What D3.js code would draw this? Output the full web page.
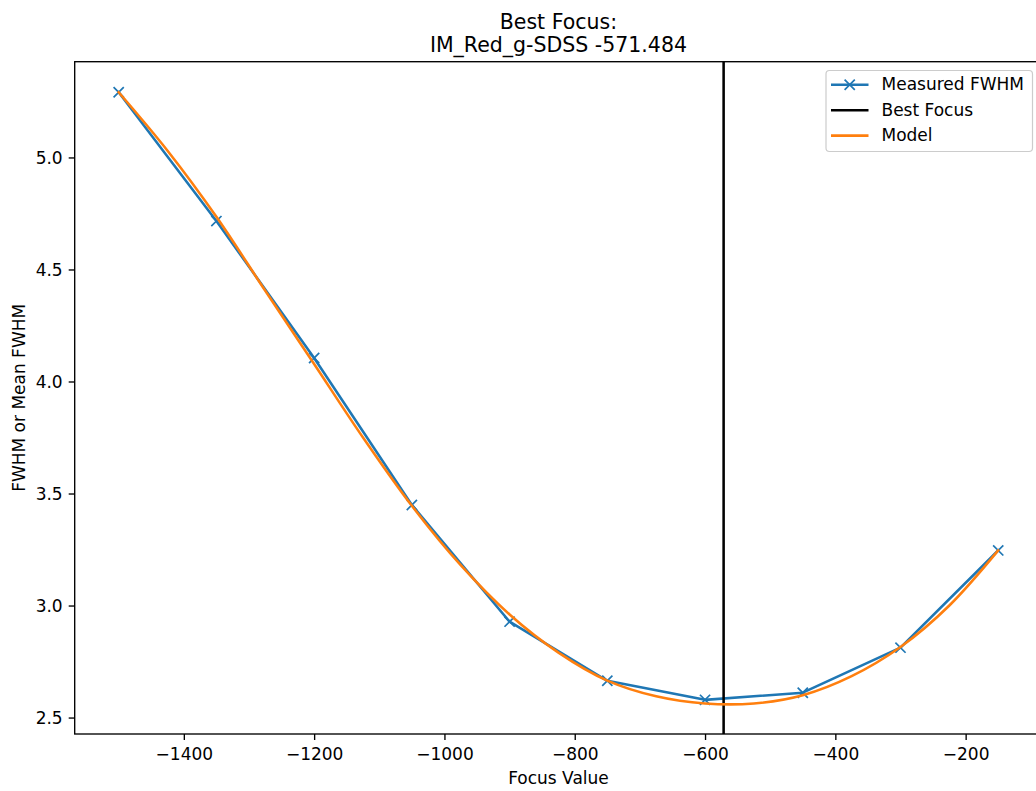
<!DOCTYPE html>
<html>
<head>
<meta charset="utf-8">
<script src="https://cdn.jsdelivr.net/npm/d3@7"></script>
<style>
  html, body { margin: 0; padding: 0; background: #ffffff; overflow: hidden; }
  svg { display: block; font-family: "DejaVu Sans", sans-serif; }
</style>
</head>
<body>
<svg id="chart" width="1036" height="791"></svg>
<script>
// ---- data ----
const titleLines = ["Best Focus:", "IM_Red_g-SDSS -571.484"];
const xLabel = "Focus Value";
const yLabel = "FWHM or Mean FWHM";
const bestFocus = -571.484;

const measuredFocus = [-1500, -1350, -1200, -1050, -900, -750, -600, -450, -300, -150];
const measuredFWHM  = [5.291, 4.716, 4.105, 3.449, 2.928, 2.664, 2.579, 2.611, 2.812, 3.246];

const modelFocus = [-1500, -1425, -1350, -1275, -1200, -1125, -1050, -975, -900, -825,
                    -750, -675, -600, -525, -450, -375, -300, -225, -150];
const modelFWHM  = [5.291, 5.030, 4.735, 4.405, 4.078, 3.750, 3.445, 3.180, 2.960, 2.790,
                    2.665, 2.595, 2.563, 2.563, 2.600, 2.685, 2.815, 3.000, 3.246];

const xTicks = [-1400, -1200, -1000, -800, -600, -400, -200];
const yTicks = [2.5, 3.0, 3.5, 4.0, 4.5, 5.0];

const legendLabels = ["Measured FWHM", "Best Focus", "Model"];
const colors = { measured: "#1f77b4", best: "#000000", model: "#ff7f0e" };

// ---- layout ----
const svg = d3.select("#chart");
const mLeft = 74.7, mTop = 61.7, pw = 967.5, ph = 672.3;
const fs = 17;

const allX = measuredFocus.concat(modelFocus);
const allY = measuredFWHM.concat(modelFWHM);
const xMin = d3.min(allX), xMax = d3.max(allX);
const yMin = d3.min(allY), yMax = d3.max(allY);
const xPad = 0.05 * (xMax - xMin), yPad = 0.05 * (yMax - yMin);

const x = d3.scaleLinear().domain([xMin - xPad, xMax + xPad]).range([mLeft, mLeft + pw]);
const y = d3.scaleLinear().domain([yMin - yPad, yMax + yPad]).range([mTop + ph, mTop]);

svg.append("defs").append("clipPath").attr("id", "clip")
  .append("rect").attr("x", mLeft).attr("y", mTop).attr("width", pw).attr("height", ph);

const plot = svg.append("g").attr("clip-path", "url(#clip)");

// measured line
const line = d3.line().x(d => x(d[0])).y(d => y(d[1]));
const measured = measuredFocus.map((f, i) => [f, measuredFWHM[i]]);
plot.append("path").datum(measured)
  .attr("d", line).attr("fill", "none")
  .attr("stroke", colors.measured).attr("stroke-width", 2.55)
  .attr("stroke-linejoin", "round").attr("stroke-linecap", "square");

// markers
const ms = 5.1;
plot.selectAll("path.mk").data(measured).enter().append("path")
  .attr("class", "mk")
  .attr("d", d => {
    const cx = x(d[0]), cy = y(d[1]);
    return `M${cx - ms},${cy - ms}L${cx + ms},${cy + ms}M${cx - ms},${cy + ms}L${cx + ms},${cy - ms}`;
  })
  .attr("stroke", colors.measured).attr("stroke-width", 1.7).attr("fill", "none");

// best focus line
plot.append("line")
  .attr("x1", x(bestFocus)).attr("x2", x(bestFocus))
  .attr("y1", mTop).attr("y2", mTop + ph)
  .attr("stroke", colors.best).attr("stroke-width", 2.55);

// model
const model = modelFocus.map((f, i) => [f, modelFWHM[i]]);
plot.append("path").datum(model)
  .attr("d", d3.line().x(d => x(d[0])).y(d => y(d[1])).curve(d3.curveCatmullRom.alpha(0.5)))
  .attr("fill", "none").attr("stroke", colors.model).attr("stroke-width", 2.55)
  .attr("stroke-linecap", "square");

// axes
const xAxis = svg.append("g").attr("transform", `translate(0,${mTop + ph})`)
  .call(d3.axisBottom(x).tickValues(xTicks).tickSize(6).tickPadding(6).tickFormat(d3.format("d")));
const yAxis = svg.append("g").attr("transform", `translate(${mLeft},0)`)
  .call(d3.axisLeft(y).tickValues(yTicks).tickSize(6).tickPadding(6).tickFormat(d3.format(".1f")));
[xAxis, yAxis].forEach(a => {
  a.select(".domain").remove();
  a.selectAll(".tick line").attr("stroke", "#000").attr("stroke-width", 1.35);
  a.selectAll(".tick text").attr("fill", "#000").attr("font-size", fs)
    .attr("font-family", "DejaVu Sans, sans-serif");
});
xAxis.selectAll(".tick text").attr("dy", null).attr("y", 26);
yAxis.selectAll(".tick text").attr("dy", "0.37em");

// spines (top, left, bottom; right is outside window)
svg.append("rect").attr("x", mLeft).attr("y", mTop).attr("width", pw).attr("height", ph)
  .attr("fill", "none").attr("stroke", "#000").attr("stroke-width", 1.35);

// labels
svg.append("text").attr("x", mLeft + pw / 2).attr("y", 784)
  .attr("text-anchor", "middle").attr("font-size", fs).text(xLabel);
svg.append("text").attr("transform", `translate(25,${mTop + ph / 2}) rotate(-90)`)
  .attr("text-anchor", "middle").attr("font-size", fs).text(yLabel);

// title
titleLines.forEach((t, i) => {
  svg.append("text").attr("x", mLeft + pw / 2).attr("y", 28.5 + i * 23.5)
    .attr("text-anchor", "middle").attr("font-size", 20.5).text(t);
});

// legend
const lg = svg.append("g");
lg.append("rect").attr("x", 826).attr("y", 70.5).attr("width", 206.5).attr("height", 81)
  .attr("rx", 3.5).attr("fill", "#ffffff").attr("fill-opacity", 0.8)
  .attr("stroke", "#cccccc").attr("stroke-width", 1.2);
const legendColors = [colors.measured, colors.best, colors.model];
legendLabels.forEach((lab, i) => {
  const cy = 84.8 + i * 25.4;
  lg.append("line").attr("x1", 831).attr("x2", 868.5).attr("y1", cy).attr("y2", cy)
    .attr("stroke", legendColors[i]).attr("stroke-width", 2.55);
  if (i === 0) {
    const cx = 849.7;
    lg.append("path")
      .attr("d", `M${cx - ms},${cy - ms}L${cx + ms},${cy + ms}M${cx - ms},${cy + ms}L${cx + ms},${cy - ms}`)
      .attr("stroke", colors.measured).attr("stroke-width", 1.7);
  }
  lg.append("text").attr("x", 881.5).attr("y", cy + 5.5).attr("font-size", fs).text(lab);
});
</script>
</body>
</html>
